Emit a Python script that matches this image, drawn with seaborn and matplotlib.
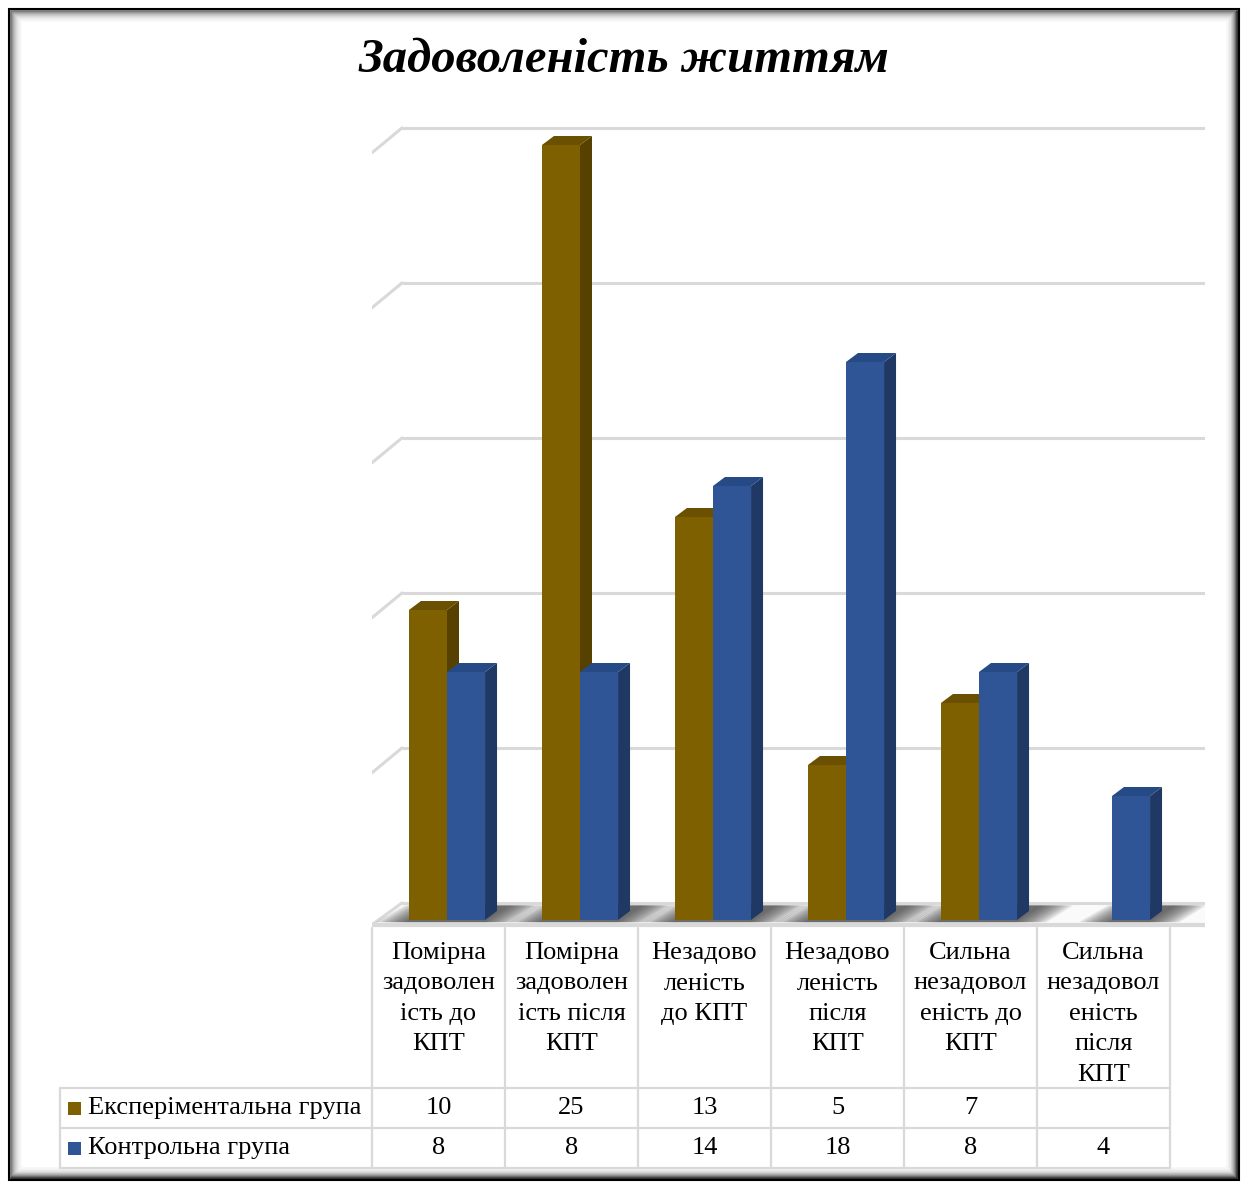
import numpy as np
import pandas as pd
import matplotlib
matplotlib.use("Agg")
import matplotlib.pyplot as plt
from matplotlib.patches import Polygon, Rectangle
import seaborn as sns

# ---------------- data ----------------
categories = [
    "Помірна\nзадоволен\nість до\nКПТ",
    "Помірна\nзадоволен\nість після\nКПТ",
    "Незадово\nленість\nдо КПТ",
    "Незадово\nленість\nпісля\nКПТ",
    "Сильна\nнезадовол\nеність до\nКПТ",
    "Сильна\nнезадовол\nеність\nпісля\nКПТ",
]
series_names = ["Експеріментальна група", "Контрольна група"]
exp_values = [10, 25, 13, 5, 7, None]
ctrl_values = [8, 8, 14, 18, 8, 4]
gridline_values = [5, 10, 15, 20, 25]
title_text = "Задоволеність життям"

front_colors = ["#7F6000", "#2F5597"]
side_colors = ["#564100", "#1F3864"]
top_colors = ["#6A5000", "#264A86"]

rows = []
for c, e, k in zip(categories, exp_values, ctrl_values):
    if e is not None:
        rows.append({"cat": c, "group": series_names[0], "val": e})
    if k is not None:
        rows.append({"cat": c, "group": series_names[1], "val": k})
df = pd.DataFrame(rows)

# ---------------- figure ----------------
sns.set_theme(style="white")
plt.rcParams["font.family"] = ["Liberation Serif", "DejaVu Serif"]
plt.rcParams["text.color"] = "black"
W, H = 1248, 1185
fig = plt.figure(figsize=(W / 100, H / 100), dpi=100)
fig.patch.set_facecolor("white")

px_per_unit = 31.0
zero_px = 920.0
ymin, ymax = -0.6, 26.0
ax_left_px, ax_right_px = 372.0, 1205.0
bottom_px = zero_px - ymin * px_per_unit
top_px = zero_px - ymax * px_per_unit
ax = fig.add_axes([ax_left_px / W, 1 - bottom_px / H,
                   (ax_right_px - ax_left_px) / W, (bottom_px - top_px) / H])

cat_px = 133.0
x0_px = 447.0
xlim = ((ax_left_px - x0_px) / cat_px, (ax_right_px - x0_px) / cat_px)

sns.barplot(data=df, x="cat", y="val", hue="group", order=categories,
            hue_order=series_names, palette=front_colors, saturation=1,
            width=0.572, errorbar=None, linewidth=0, legend=False, ax=ax)
ax.set_xlim(*xlim)
ax.set_ylim(ymin, ymax)
ax.axis("off")

dx = 12 / cat_px
dy = 9 / px_per_unit
x_wall = (402 - x0_px) / cat_px
dy_wall = 0.55

for v in gridline_values:
    ax.plot([x_wall, xlim[1]], [v + dy_wall, v + dy_wall], color="#d9d9d9",
            lw=2.2, zorder=0.5, solid_capstyle="butt")
    ax.plot([xlim[0], x_wall], [v - 0.25, v + dy_wall], color="#d9d9d9",
            lw=2.2, zorder=0.5)

floor_front = -0.15
floor = Polygon([(xlim[0], floor_front), (x_wall, dy_wall), (xlim[1], dy_wall),
                 (xlim[1], floor_front)], closed=True, facecolor="#fafafa",
                edgecolor="none", zorder=0.6)
ax.add_patch(floor)
ax.plot([x_wall, xlim[1]], [dy_wall, dy_wall], color="#d9d9d9", lw=2.2, zorder=0.7)
ax.plot([xlim[0], xlim[1]], [floor_front, floor_front], color="#d9d9d9", lw=3.0, zorder=0.7)
ax.plot([xlim[0], x_wall], [floor_front, dy_wall], color="#d9d9d9", lw=2.2, zorder=0.7)

bars = [p for p in ax.patches if isinstance(p, Rectangle) and p is not floor]
hue_idx = {}
for p in bars:
    fc = matplotlib.colors.to_hex(p.get_facecolor())
    hue_idx[id(p)] = 0 if fc.lower() == front_colors[0].lower() else 1

cat_extent = {}
for p in bars:
    h = p.get_height()
    if not np.isfinite(h) or h == 0:
        continue
    cx = round(p.get_x() + p.get_width() / 2)
    lo, hi = cat_extent.get(cx, (np.inf, -np.inf))
    cat_extent[cx] = (min(lo, p.get_x()), max(hi, p.get_x() + p.get_width()))
for cx, (lo, hi) in cat_extent.items():
    for k in range(10):
        pad = 0.25 * (1 - k / 10)
        shadow = Polygon([(lo - pad, floor_front + 0.08), (lo - pad + 0.22, dy_wall - 0.08),
                          (hi + dx + pad + 0.08, dy_wall - 0.08), (hi + dx + pad - 0.12, floor_front + 0.08)],
                         closed=True, facecolor="#303030", edgecolor="none",
                         alpha=0.11, zorder=0.8)
        ax.add_patch(shadow)

for p in bars:
    h = p.get_height()
    if not np.isfinite(h) or h == 0:
        continue
    i = hue_idx[id(p)]
    z = 3 + i
    p.set_zorder(z + 0.2)
    x0 = p.get_x()
    w = p.get_width()
    side = Polygon([(x0 + w, 0), (x0 + w + dx, dy), (x0 + w + dx, h + dy), (x0 + w, h)],
                   closed=True, facecolor=side_colors[i], edgecolor="none", zorder=z)
    top = Polygon([(x0, h), (x0 + dx, h + dy), (x0 + w + dx, h + dy), (x0 + w, h)],
                  closed=True, facecolor=top_colors[i], edgecolor="none", zorder=z)
    ax.add_patch(side)
    ax.add_patch(top)

# ---------------- overlay in pixel coordinates ----------------
ov = fig.add_axes([0, 0, 1, 1], zorder=-1)
ov.set_xlim(0, W)
ov.set_ylim(H, 0)
ov.axis("off")

# frame with bevel: black outer line then gray gradient
ov.add_patch(Rectangle((9, 9), W - 18, H - 14, fill=False, edgecolor="black", lw=1.5))
grays = [0.35, 0.5, 0.6, 0.68, 0.75, 0.8, 0.85, 0.89, 0.92, 0.95, 0.97]
for k, g in enumerate(grays):
    ov.add_patch(Rectangle((11 + k, 11 + k), W - 22 - 2 * k, H - 18 - 2 * k,
                           fill=False, edgecolor=(g, g, g), lw=1.1))
# darker right/bottom shading
for k, g in enumerate([0.1, 0.3, 0.45, 0.58, 0.68, 0.76, 0.83, 0.9]):
    ov.plot([W - 11 - k, W - 11 - k], [11 + k, H - 7 - k], color=(g, g, g), lw=1.1)
    ov.plot([11 + k, W - 11 - k], [H - 7 - k, H - 7 - k], color=(g, g, g), lw=1.1)

fig.text(624 / W, 1 - 60 / H, title_text, ha="center", va="center",
         fontsize=35, fontweight="bold", fontstyle="italic", color="black",
         family=["Liberation Serif", "DejaVu Serif"])

# data table
tab = fig.add_axes([0, 0, 1, 1], zorder=5)
tab.set_xlim(0, W)
tab.set_ylim(H, 0)
tab.axis("off")
tab.patch.set_alpha(0)
col_edges = [372 + cat_px * i for i in range(len(categories) + 1)]
lc = "#d9d9d9"
lw = 1.6
row_top, row1, row2, row3 = 928, 1088, 1128, 1168
leg_left = 60
for xe in col_edges:
    tab.plot([xe, xe], [row_top, row3], color=lc, lw=lw)
for yy in (row1, row2, row3):
    tab.plot([leg_left, col_edges[-1]], [yy, yy], color=lc, lw=lw)
tab.plot([leg_left, leg_left], [row1, row3], color=lc, lw=lw)

fs = 19
line_h = 30.5
for i, lab in enumerate(categories):
    cx = (col_edges[i] + col_edges[i + 1]) / 2
    for j, line in enumerate(lab.split("\n")):
        tab.text(cx, 953 + j * line_h, line, ha="center", va="center", fontsize=fs,
                 color="black")

for r, (name, vals) in enumerate(zip(series_names, [exp_values, ctrl_values])):
    yc = (row1 + row2) / 2 if r == 0 else (row2 + row3) / 2
    tab.add_patch(Rectangle((68, yc - 6.5), 13, 13, facecolor=front_colors[r], edgecolor="none"))
    tab.text(88, yc, name, ha="left", va="center", fontsize=fs, color="black")
    for i, v in enumerate(vals):
        if v is None:
            continue
        cx = (col_edges[i] + col_edges[i + 1]) / 2
        tab.text(cx, yc, str(v), ha="center", va="center", fontsize=fs, color="black")

fig.savefig("out.png", dpi=100, facecolor="white")
